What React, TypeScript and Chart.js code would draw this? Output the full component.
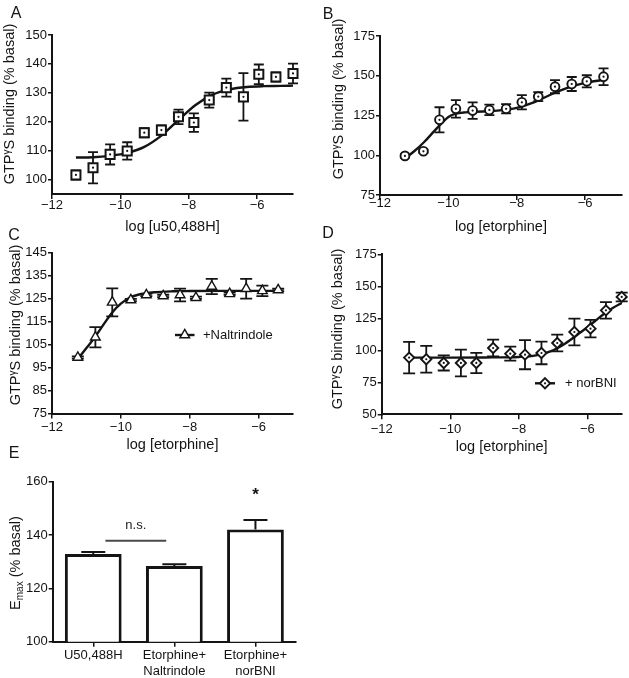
import React, { useEffect, useRef } from 'react';
import { Chart, registerables } from 'chart.js';

Chart.register(...registerables);

const FONT = "'Liberation Sans', Arial, Helvetica, sans-serif";
const INK = '#141414';
Chart.defaults.font.family = FONT;
Chart.defaults.color = INK;

// ---------------- DATA ----------------
const xTickVals = [-12, -10, -8, -6];

// Panel A : U50,488H
const aLogConc = [-11.3, -10.8, -10.3, -9.8, -9.3, -8.8, -8.3, -7.85, -7.4, -6.9, -6.4, -5.95, -5.45, -4.95];
const aBinding = [101.6, 104.1, 108.7, 109.9, 116.2, 117.1, 121.7, 119.7, 127.5, 131.8, 128.6, 136.4, 135.5, 136.7];
const aSem = [1.6, 5.4, 3.5, 3.0, 1.6, 1.6, 2.5, 3.2, 2.6, 3.1, 8.2, 3.4, 1.6, 3.4];
const aFitX = [-11.3, -10.8, -10.3, -9.8, -9.3, -8.8, -8.3, -7.8, -7.3, -6.8, -6.3, -5.8, -5.3, -4.95];
const aFitY = [107.6, 107.7, 108.2, 109.2, 111.3, 115.2, 120.6, 125.8, 129.4, 131.2, 132.0, 132.3, 132.4, 132.5];
const aYTicks = [100, 110, 120, 130, 140, 150];

// Panel B : etorphine
const bLogConc = [-11.27, -10.73, -10.26, -9.78, -9.29, -8.8, -8.31, -7.85, -7.37, -6.88, -6.39, -5.95, -5.46];
const bBinding = [99.6, 102.5, 122.3, 129.2, 128.1, 128.5, 129.2, 133.3, 136.9, 143.1, 144.8, 146.5, 149.4];
const bSem = [1.0, 1.0, 7.9, 5.5, 5.2, 3.3, 2.9, 4.5, 2.8, 4.1, 4.4, 3.8, 5.3];
const bFitX = [-11.3, -11.0, -10.7, -10.4, -10.2, -10.0, -9.8, -9.5, -9.0, -8.5, -8.0, -7.5, -7.0, -6.5, -6.0, -5.45];
const bFitY = [97.5, 102.5, 108.5, 115.5, 120, 124, 126, 127, 127.5, 128.2, 129.8, 133.2, 138.2, 142.5, 145.5, 147.5];
const bYTicks = [75, 100, 125, 150, 175];

// Panel C : etorphine + Naltrindole
const cLogConc = [-11.25, -10.74, -10.25, -9.71, -9.26, -8.77, -8.28, -7.82, -7.36, -6.84, -6.36, -5.89, -5.43];
const cBinding = [99.4, 108.2, 123.4, 124.4, 126.6, 126.2, 126.6, 125.4, 130.3, 127.1, 129.3, 128.4, 128.8];
const cSem = [0.5, 4.4, 6.1, 0.5, 0.5, 0.5, 2.8, 0.5, 3.3, 0.5, 4.3, 2.3, 0.5];
const cFitX = [-11.25, -11.0, -10.75, -10.5, -10.25, -10.0, -9.75, -9.5, -9.0, -8.5, -8.0, -7.0, -6.0, -5.43];
const cFitY = [98.7, 103.5, 108.3, 113.8, 119, 122.8, 125.4, 126.7, 127.8, 128.2, 128.3, 128.4, 128.4, 128.4];
const cYTicks = [75, 85, 95, 105, 115, 125, 135, 145];

// Panel D : etorphine + norBNI
const dLogConc = [-11.2, -10.7, -10.19, -9.69, -9.24, -8.75, -8.25, -7.82, -7.34, -6.88, -6.38, -5.91, -5.46, -5.0];
const dBinding = [94.3, 93.0, 90.1, 90.1, 90.1, 101.8, 97.4, 96.6, 97.9, 105.7, 114.3, 116.9, 131.2, 141.7];
const dSem = [12.3, 10.4, 5.9, 10.4, 7.9, 6.5, 5.5, 11.4, 8.8, 6.6, 10.4, 6.8, 6.5, 3.4];
const dFitX = [-11.2, -10, -9, -8, -7.5, -7.0, -6.75, -6.5, -6.25, -6.0, -5.75, -5.5, -5.25, -5.0];
const dFitY = [94.3, 94.3, 94.4, 94.8, 96, 100, 103.5, 108, 113, 118, 123.5, 128.8, 133.2, 137];
const dYTicks = [50, 75, 100, 125, 150, 175];

// Panel E : Emax
const eCategories: (string | string[])[] = ['U50,488H', ['Etorphine+', 'Naltrindole'], ['Etorphine+', 'norBNI']];
const eEmax = [132.9, 128.4, 142.1];
const eSem = [0.7, 0.6, 3.5];
const eYTicks = [100, 120, 140, 160];
const eNsBracket = { from: 0.15, to: 0.9, level: 137.9, textLevel: 143.5, label: 'n.s.' };
const eStar = { index: 2, level: 156.5, label: '*' };

// ---------------- HELPERS ----------------
type Geo = { left: number; top: number; w: number; h: number; l: number; t: number; r: number; b: number };
type Run = { t: string; size: number; dy?: number };

const fmtTick = (v: number) => (v < 0 ? '\u2212' + Math.abs(v) : String(v));

function drawRuns(ctx: CanvasRenderingContext2D, runs: Run[], cx: number, cy: number, rotate: boolean) {
  ctx.save();
  ctx.translate(cx, cy);
  if (rotate) ctx.rotate(-Math.PI / 2);
  ctx.fillStyle = INK;
  ctx.textBaseline = 'alphabetic';
  ctx.textAlign = 'left';
  let total = 0;
  const widths = runs.map((r) => {
    ctx.font = `${r.size}px ${FONT}`;
    const w = ctx.measureText(r.t).width;
    total += w;
    return w;
  });
  const main = Math.max(...runs.map((r) => r.size));
  const base = main * 0.36;
  let x = -total / 2;
  runs.forEach((r, i) => {
    ctx.font = `${r.size}px ${FONT}`;
    ctx.fillText(r.t, x, base + (r.dy || 0));
    x += widths[i];
  });
  ctx.restore();
}

function drawMarker(ctx: CanvasRenderingContext2D, style: string, x: number, y: number, r: number, bw: number, dot: boolean) {
  ctx.save();
  ctx.beginPath();
  if (style === 'triangle') {
    ctx.moveTo(x, y - r);
    ctx.lineTo(x + 0.866 * r, y + 0.5 * r);
    ctx.lineTo(x - 0.866 * r, y + 0.5 * r);
    ctx.closePath();
  } else if (style === 'rectRot') {
    ctx.moveTo(x, y - r);
    ctx.lineTo(x + r, y);
    ctx.lineTo(x, y + r);
    ctx.lineTo(x - r, y);
    ctx.closePath();
  } else {
    ctx.arc(x, y, r, 0, Math.PI * 2);
  }
  ctx.fillStyle = '#fff';
  ctx.fill();
  ctx.strokeStyle = INK;
  ctx.lineWidth = bw;
  ctx.stroke();
  if (dot) {
    ctx.beginPath();
    ctx.arc(x, y, 1.1, 0, Math.PI * 2);
    ctx.fillStyle = INK;
    ctx.fill();
  }
  ctx.restore();
}

interface CurveSpec {
  geo: Geo;
  letter: string;
  letterPos: [number, number];
  x: number[];
  y: number[];
  sem: number[];
  fitX: number[];
  fitY: number[];
  xMax: number;
  yMin: number;
  yMax: number;
  yTicks: number[];
  xTitle: string;
  xTitlePad: number;
  xTickPad: number;
  yTitlePos: [number, number];
  style: string;
  r: number;
  bw: number;
  dot: boolean;
  cap: number;
  legend?: { text: string; x1: number; x2: number; y: number; tx: number };
}

function curvePlugin(s: CurveSpec) {
  const g = s.geo;
  return {
    id: 'curveExtras' + s.letter,
    beforeDatasetsDraw(chart: any) {
      const ctx = chart.ctx as CanvasRenderingContext2D;
      const meta = chart.getDatasetMeta(1);
      const ys = chart.scales.y;
      ctx.save();
      ctx.strokeStyle = INK;
      ctx.lineWidth = 1.8;
      s.sem.forEach((e, i) => {
        const el = meta.data[i];
        if (!el) return;
        const x = el.x;
        const yt = ys.getPixelForValue(s.y[i] + e);
        const yb = ys.getPixelForValue(s.y[i] - e);
        ctx.beginPath();
        ctx.moveTo(x, yt);
        ctx.lineTo(x, yb);
        ctx.moveTo(x - s.cap, yt);
        ctx.lineTo(x + s.cap, yt);
        ctx.moveTo(x - s.cap, yb);
        ctx.lineTo(x + s.cap, yb);
        ctx.stroke();
      });
      ctx.restore();
    },
    afterDraw(chart: any) {
      const ctx = chart.ctx as CanvasRenderingContext2D;
      drawRuns(ctx, [{ t: s.letter, size: 16 }], s.letterPos[0] - g.left, s.letterPos[1] - g.top, false);
      drawRuns(
        ctx,
        [
          { t: 'GTP', size: 14.5 },
          { t: '\u03b3', size: 10, dy: -4 },
          { t: 'S binding (% basal)', size: 14.5 },
        ],
        s.yTitlePos[0] - g.left,
        s.yTitlePos[1] - g.top,
        true
      );
      if (s.legend) {
        const lg = s.legend;
        const y = lg.y - g.top;
        ctx.save();
        ctx.strokeStyle = INK;
        ctx.lineWidth = 2.4;
        ctx.beginPath();
        ctx.moveTo(lg.x1 - g.left, y);
        ctx.lineTo(lg.x2 - g.left, y);
        ctx.stroke();
        drawMarker(ctx, s.style, (lg.x1 + lg.x2) / 2 - g.left, y, s.r, s.bw, s.dot);
        ctx.fillStyle = INK;
        ctx.font = `13px ${FONT}`;
        ctx.textBaseline = 'middle';
        ctx.textAlign = 'left';
        ctx.fillText(lg.text, lg.tx - g.left, y);
        ctx.restore();
      }
    },
  };
}

function curveConfig(s: CurveSpec): any {
  const g = s.geo;
  const pts = s.x.map((x, i) => ({ x, y: s.y[i] }));
  const fit = s.fitX.map((x, i) => ({ x, y: s.fitY[i] }));
  return {
    type: 'scatter',
    data: {
      datasets: [
        { data: pts, pointRadius: s.dot ? 1.1 : 0, pointBackgroundColor: INK, pointBorderWidth: 0, order: 0, clip: false },
        {
          data: pts,
          pointStyle: s.style,
          pointRadius: s.r,
          pointBorderWidth: s.bw,
          pointBorderColor: INK,
          pointBackgroundColor: '#fff',
          order: 1,
          clip: false,
        },
        {
          data: fit,
          showLine: true,
          borderColor: INK,
          borderWidth: 2.4,
          pointRadius: 0,
          cubicInterpolationMode: 'monotone',
          fill: false,
          order: 2,
          clip: false,
        },
      ],
    },
    options: {
      responsive: false,
      maintainAspectRatio: false,
      animation: false,
      events: [],
      layout: { padding: { left: 0, top: g.t - g.top, right: g.left + g.w - g.r, bottom: 0 } },
      plugins: { legend: { display: false }, tooltip: { enabled: false } },
      scales: {
        x: {
          type: 'linear',
          min: -12,
          max: s.xMax,
          afterBuildTicks: (sc: any) => {
            sc.ticks = xTickVals.map((v) => ({ value: v }));
          },
          afterFit: (sc: any) => {
            sc.height = g.top + g.h - g.b;
          },
          ticks: {
            autoSkip: false,
            maxRotation: 0,
            padding: s.xTickPad,
            font: { size: 13, family: FONT, lineHeight: 1.2 },
            color: INK,
            callback: (v: number) => fmtTick(v),
          },
          title: {
            display: true,
            text: s.xTitle,
            font: { size: 14.5, family: FONT, lineHeight: 1.2 },
            color: INK,
            padding: { top: 0, bottom: s.xTitlePad },
          },
          border: { display: true, color: INK, width: 2 },
          grid: { drawOnChartArea: false, drawTicks: true, tickLength: 5, color: INK, lineWidth: 1.5 },
        },
        y: {
          type: 'linear',
          min: s.yMin,
          max: s.yMax,
          afterBuildTicks: (sc: any) => {
            sc.ticks = s.yTicks.map((v) => ({ value: v }));
          },
          afterFit: (sc: any) => {
            sc.width = g.l - g.left;
          },
          ticks: {
            autoSkip: false,
            padding: 1,
            font: { size: 13, family: FONT },
            color: INK,
            callback: (v: number) => fmtTick(v),
          },
          border: { display: true, color: INK, width: 2 },
          grid: { drawOnChartArea: false, drawTicks: true, tickLength: 4, color: INK, lineWidth: 1.5 },
        },
      },
    },
    plugins: [curvePlugin(s)],
  };
}

// ---------------- PANEL SPECS ----------------
const specA: CurveSpec = {
  geo: { left: 0, top: 0, w: 315, h: 240, l: 52, t: 35, r: 293, b: 194 },
  letter: 'A',
  letterPos: [16, 12.5],
  x: aLogConc,
  y: aBinding,
  sem: aSem,
  fitX: aFitX,
  fitY: aFitY,
  xMax: -4.95,
  yMin: 95,
  yMax: 150,
  yTicks: aYTicks,
  xTitle: 'log [u50,488H]',
  xTitlePad: 4.3,
  xTickPad: -1.8,
  yTitlePos: [8.5, 104],
  style: 'rect',
  r: 6.4,
  bw: 2,
  dot: true,
  cap: 5,
};

const specB: CurveSpec = {
  geo: { left: 310, top: 0, w: 319, h: 240, l: 380, t: 36, r: 622, b: 195 },
  letter: 'B',
  letterPos: [328, 12.8],
  x: bLogConc,
  y: bBinding,
  sem: bSem,
  fitX: bFitX,
  fitY: bFitY,
  xMax: -4.92,
  yMin: 75,
  yMax: 175,
  yTicks: bYTicks,
  xTitle: 'log [etorphine]',
  xTitlePad: 4.6,
  xTickPad: -4,
  yTitlePos: [338, 99],
  style: 'circle',
  r: 4.4,
  bw: 1.9,
  dot: true,
  cap: 5,
};

const specC: CurveSpec = {
  geo: { left: 0, top: 215, w: 315, h: 245, l: 52, t: 252.7, r: 293, b: 413.5 },
  letter: 'C',
  letterPos: [14, 234],
  x: cLogConc,
  y: cBinding,
  sem: cSem,
  fitX: cFitX,
  fitY: cFitY,
  xMax: -5,
  yMin: 75,
  yMax: 145,
  yTicks: cYTicks,
  xTitle: 'log [etorphine]',
  xTitlePad: 6.3,
  xTickPad: 1.2,
  yTitlePos: [15, 325],
  style: 'triangle',
  r: 5.6,
  bw: 1.4,
  dot: false,
  cap: 6,
  legend: { text: '+Naltrindole', x1: 175, x2: 194.5, y: 335, tx: 203 },
};

const specD: CurveSpec = {
  geo: { left: 310, top: 215, w: 319, h: 245, l: 381.7, t: 254.3, r: 621.7, b: 414.3 },
  letter: 'D',
  letterPos: [328, 232.5],
  x: dLogConc,
  y: dBinding,
  sem: dSem,
  fitX: dFitX,
  fitY: dFitY,
  xMax: -5,
  yMin: 50,
  yMax: 175,
  yTicks: dYTicks,
  xTitle: 'log [etorphine]',
  xTitlePad: 4.6,
  xTickPad: 2.2,
  yTitlePos: [337, 329],
  style: 'rectRot',
  r: 5.1,
  bw: 1.9,
  dot: true,
  cap: 6,
  legend: { text: '+ norBNI', x1: 535, x2: 555, y: 383.3, tx: 565 },
};

const geoE: Geo = { left: 0, top: 430, w: 315, h: 248, l: 52.7, t: 481.7, r: 296, b: 641.7 };

function barConfig(): any {
  const g = geoE;
  const plugin = {
    id: 'eExtras',
    afterDatasetsDraw(chart: any) {
      const ctx = chart.ctx as CanvasRenderingContext2D;
      const meta = chart.getDatasetMeta(0);
      const ys = chart.scales.y;
      ctx.save();
      ctx.strokeStyle = INK;
      ctx.lineWidth = 2;
      eSem.forEach((e, i) => {
        const el = meta.data[i];
        if (!el) return;
        const x = el.x;
        const y0 = ys.getPixelForValue(eEmax[i]);
        const yt = ys.getPixelForValue(eEmax[i] + e);
        ctx.beginPath();
        ctx.moveTo(x, y0);
        ctx.lineTo(x, yt);
        ctx.moveTo(x - 12, yt);
        ctx.lineTo(x + 12, yt);
        ctx.stroke();
      });
      ctx.restore();
    },
    afterDraw(chart: any) {
      const ctx = chart.ctx as CanvasRenderingContext2D;
      const xs = chart.scales.x;
      const ys = chart.scales.y;
      const x1 = xs.getPixelForValue(eNsBracket.from);
      const x2 = xs.getPixelForValue(eNsBracket.to);
      const yl = ys.getPixelForValue(eNsBracket.level);
      ctx.save();
      ctx.strokeStyle = '#4a4a4a';
      ctx.lineWidth = 2;
      ctx.beginPath();
      ctx.moveTo(x1, yl);
      ctx.lineTo(x2, yl);
      ctx.stroke();
      ctx.fillStyle = '#222';
      ctx.font = `13px ${FONT}`;
      ctx.textAlign = 'center';
      ctx.textBaseline = 'middle';
      ctx.fillText(eNsBracket.label, (x1 + x2) / 2, ys.getPixelForValue(eNsBracket.textLevel));
      ctx.fillStyle = INK;
      ctx.font = `bold 17px ${FONT}`;
      ctx.fillText(eStar.label, xs.getPixelForValue(eStar.index), ys.getPixelForValue(eStar.level) + 4);
      ctx.restore();
      drawRuns(ctx, [{ t: 'E', size: 16 }], 14 - g.left, 452.5 - g.top, false);
      drawRuns(
        ctx,
        [
          { t: 'E', size: 14.5 },
          { t: 'max', size: 10, dy: 3 },
          { t: ' (% basal)', size: 14.5 },
        ],
        15 - g.left,
        563 - g.top,
        true
      );
    },
  };
  return {
    type: 'bar',
    data: {
      labels: eCategories,
      datasets: [
        {
          data: eEmax,
          backgroundColor: '#fff',
          borderColor: INK,
          borderWidth: 3,
          borderSkipped: 'start',
          barPercentage: 0.7,
          categoryPercentage: 1,
        },
      ],
    },
    options: {
      responsive: false,
      maintainAspectRatio: false,
      animation: false,
      events: [],
      layout: { padding: { left: 0, top: g.t - g.top, right: g.left + g.w - g.r, bottom: 0 } },
      plugins: { legend: { display: false }, tooltip: { enabled: false } },
      scales: {
        x: {
          type: 'category',
          offset: true,
          afterFit: (sc: any) => {
            sc.height = g.top + g.h - g.b;
          },
          ticks: {
            autoSkip: false,
            maxRotation: 0,
            padding: 0,
            font: { size: 13, family: FONT, lineHeight: 1.28 },
            color: INK,
          },
          border: { display: true, color: INK, width: 2 },
          grid: { offset: false, drawOnChartArea: false, drawTicks: true, tickLength: 5, color: INK, lineWidth: 1.5 },
        },
        y: {
          type: 'linear',
          min: 100,
          max: 160,
          afterBuildTicks: (sc: any) => {
            sc.ticks = eYTicks.map((v) => ({ value: v }));
          },
          afterFit: (sc: any) => {
            sc.width = g.l - g.left;
          },
          ticks: { autoSkip: false, padding: 1, font: { size: 13, family: FONT }, color: INK },
          border: { display: true, color: INK, width: 2 },
          grid: { drawOnChartArea: false, drawTicks: true, tickLength: 4, color: INK, lineWidth: 1.5 },
        },
      },
    },
    plugins: [plugin],
  };
}

// ---------------- COMPONENTS ----------------
function ChartCanvas({ geo, build }: { geo: Geo; build: () => any }) {
  const ref = useRef<HTMLCanvasElement | null>(null);
  useEffect(() => {
    if (!ref.current) return;
    const chart = new Chart(ref.current, build());
    return () => chart.destroy();
  }, []);
  return (
    <canvas
      ref={ref}
      width={geo.w}
      height={geo.h}
      style={{ position: 'absolute', left: geo.left, top: geo.top, width: geo.w, height: geo.h }}
    />
  );
}

export default function App() {
  return (
    <div style={{ position: 'absolute', left: 0, top: 0, width: 629, height: 678, background: '#fff', overflow: 'hidden' }}>
      <ChartCanvas geo={specA.geo} build={() => curveConfig(specA)} />
      <ChartCanvas geo={specB.geo} build={() => curveConfig(specB)} />
      <ChartCanvas geo={specC.geo} build={() => curveConfig(specC)} />
      <ChartCanvas geo={specD.geo} build={() => curveConfig(specD)} />
      <ChartCanvas geo={geoE} build={barConfig} />
    </div>
  );
}
